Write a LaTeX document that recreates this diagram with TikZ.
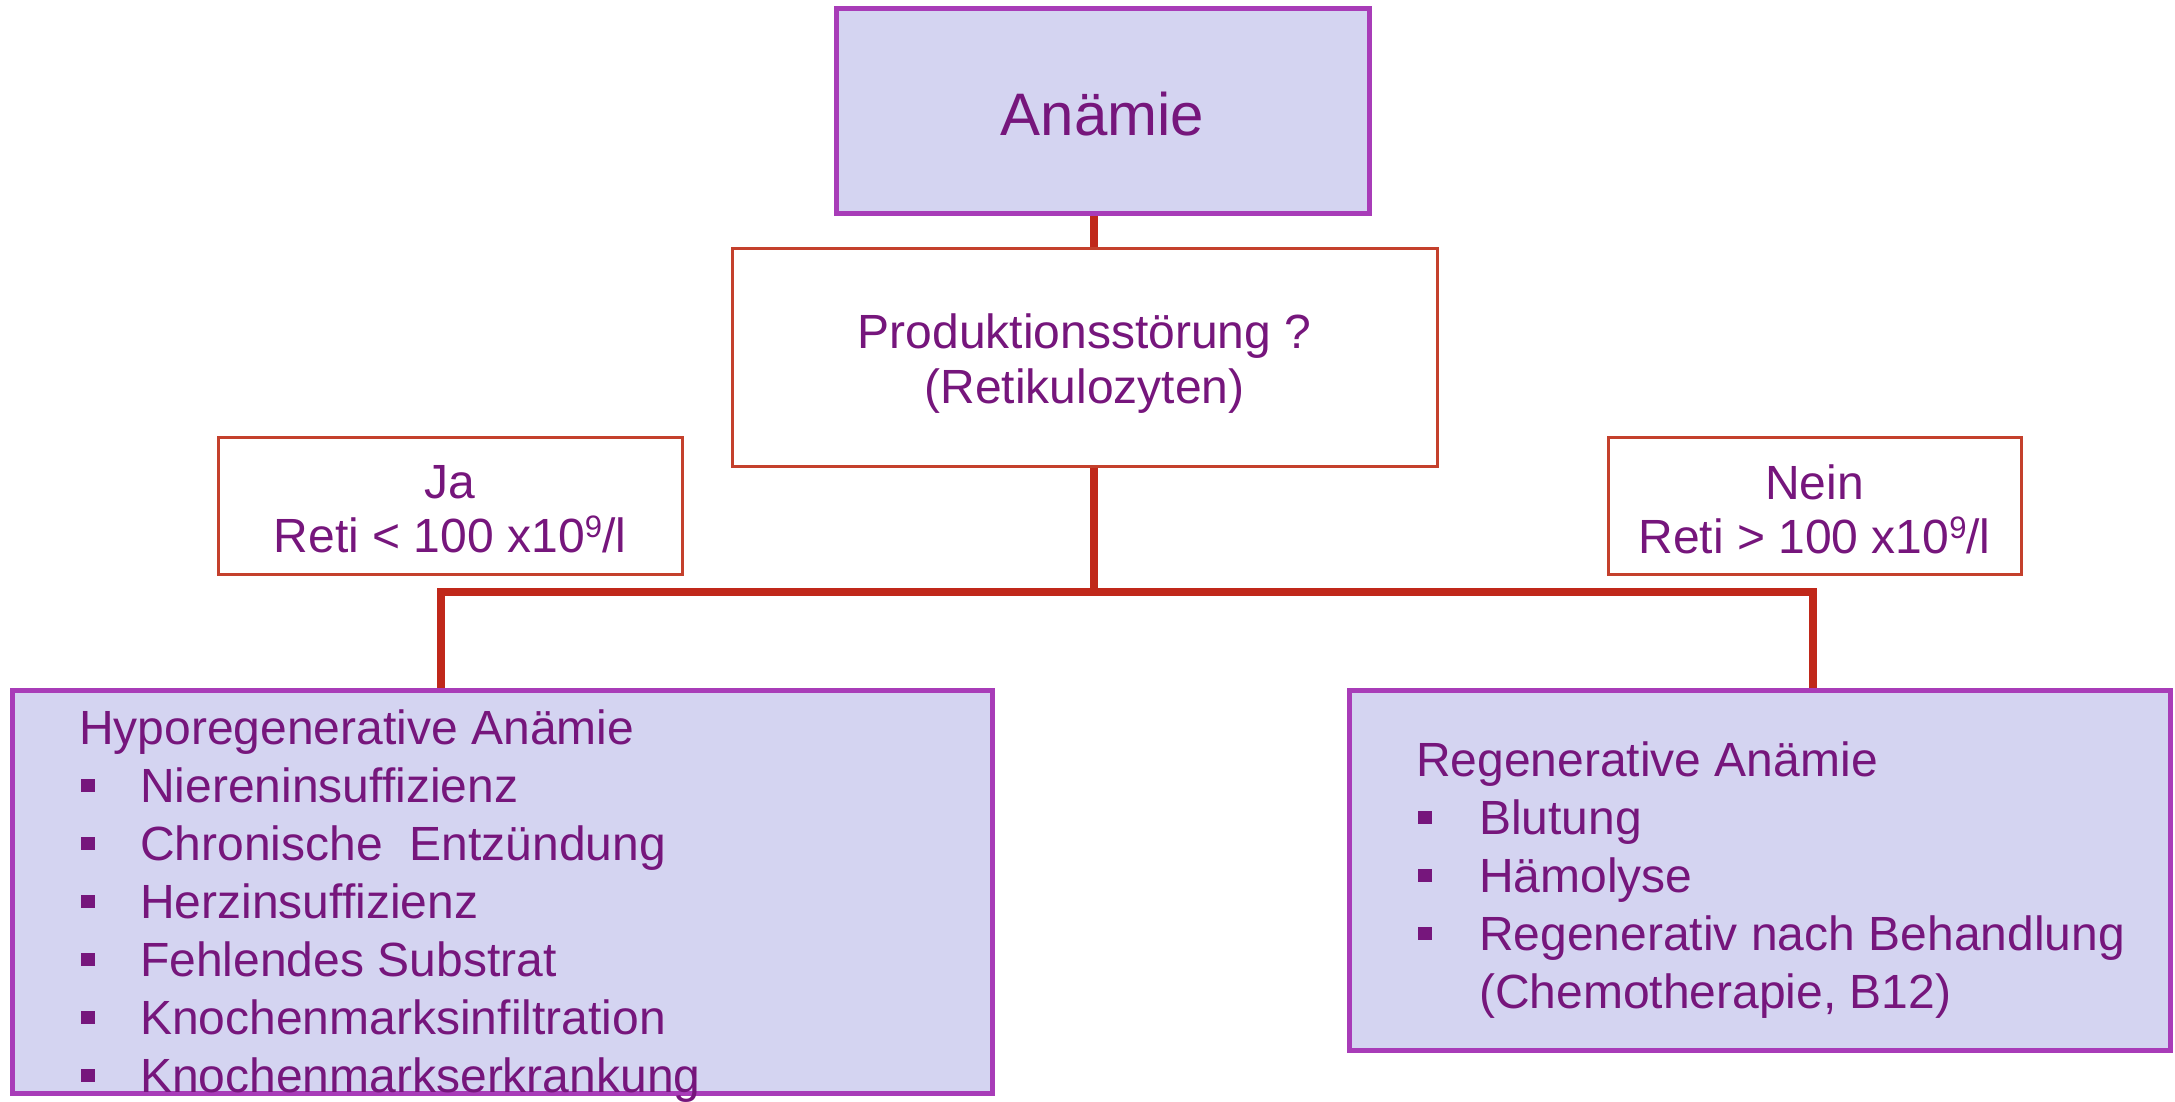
\documentclass[tikz,border=0pt]{standalone}
\usepackage{fontspec}
\setmainfont{Liberation Sans}
\definecolor{lav}{RGB}{212,212,241}
\definecolor{pborder}{RGB}{168,60,184}
\definecolor{ptext}{RGB}{118,22,124}
\definecolor{conred}{RGB}{192,40,26}
\definecolor{bred}{RGB}{196,64,44}
\newcommand{\blt}[1]{\makebox[#1][l]{\hspace*{2pt}\raisebox{10.5pt}{\color{ptext}\rule{13.5pt}{13.5pt}}}}
\newcommand{\supnine}{\raisebox{15pt}{\fontsize{31}{31}\selectfont 9}}
\newcommand{\shiftdn}[2]{\raisebox{-#1}[\height][\depth]{#2}}
\begin{document}
\begin{tikzpicture}[x=1pt,y=-1pt,
  bigbox/.style={draw=pborder,line width=5pt,fill=lav,rectangle,inner sep=0pt},
  qbox/.style={draw=bred,line width=3pt,fill=white,rectangle,inner sep=0pt,align=center,
    text=ptext,font=\fontsize{48}{55}\selectfont},
  listtext/.style={inner sep=0pt,align=left,text=ptext,font=\fontsize{48}{58}\selectfont,anchor=north west},
  conn/.style={draw=conred,line width=7.5pt,line cap=butt,line join=miter}]
\useasboundingbox (0,0) rectangle (2175,1102);
\fill[white] (0,0) rectangle (2175,1102);

\node[bigbox,minimum width=533pt,minimum height=204pt,text=ptext,font=\fontsize{60}{66}\selectfont] (anaemie) at (1102.5,111) {\shiftdn{3pt}{Anämie}};
\node[qbox,minimum width=705pt,minimum height=218pt] (prod) at (1084.5,357) {\shiftdn{7pt}{Produktionsstörung ?}\\\shiftdn{7pt}{(Retikulozyten)}};
\node[qbox,minimum width=464pt,minimum height=137pt,font=\fontsize{48}{54}\selectfont] (ja) at (450,505.5) {\shiftdn{4pt}{Ja}\\\shiftdn{4pt}{Reti < 100 x10\supnine/l}};
\node[qbox,minimum width=413pt,minimum height=137pt,font=\fontsize{48}{54}\selectfont] (nein) at (1814.5,505.5) {\shiftdn{4pt}{Nein}\\\shiftdn{4pt}{Reti > 100 x10\supnine/l}};

\node[bigbox,minimum width=980pt,minimum height=403pt] (hypo) at (502,891.5) {};
\node[bigbox,minimum width=821pt,minimum height=360pt] (regen) at (1759.5,870) {};

\node[listtext] (hypotext) at (79,710) {Hyporegenerative Anämie\\
\blt{61pt}Niereninsuffizienz\\
\blt{61pt}Chronische\ \ Entzündung\\
\blt{61pt}Herzinsuffizienz\\
\blt{61pt}Fehlendes Substrat\\
\blt{61pt}Knochenmarksinfiltration\\
\blt{61pt}Knochenmarkserkrankung};

\node[listtext] (regentext) at (1416,742) {Regenerative Anämie\\
\blt{63pt}Blutung\\
\blt{63pt}Hämolyse\\
\blt{63pt}Regenerativ nach Behandlung\\
\hspace*{63pt}(Chemotherapie, B12)};

\coordinate (jT) at (1094,592);
\coordinate (jL) at (441,592);
\coordinate (jR) at (1813,592);

\draw[conn] (anaemie.south -| jT) -- (prod.north -| jT);
\draw[conn] (prod.south -| jT) -- (jT);
\draw[conn] (hypo.north -| jL) -- (jL) -- (jR) -- (regen.north -| jR);
\end{tikzpicture}
\end{document}
